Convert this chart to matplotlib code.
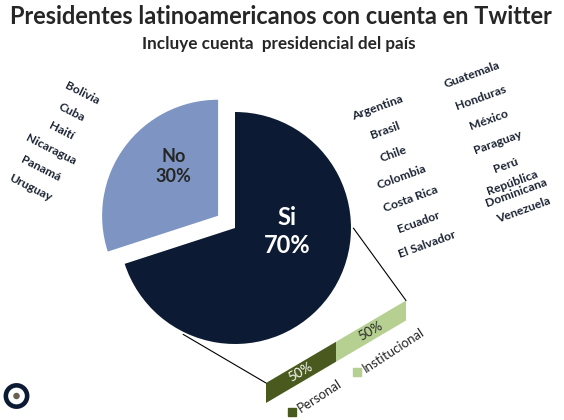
import matplotlib
matplotlib.use("Agg")
import matplotlib.pyplot as plt
from matplotlib.transforms import Affine2D
from matplotlib.patches import ConnectionPatch, Circle
import numpy as np

plt.rcParams['font.family'] = ['Lato', 'DejaVu Sans']

# ---- data ----
pie_labels = ["Si", "No"]
pie_values = [70, 30]
bar_labels = ["Personal", "Institucional"]
bar_values = [50, 50]
no_countries = ["Bolivia", "Cuba", "Haití", "Nicaragua", "Panamá", "Uruguay"]
si_countries_1 = ["Argentina", "Brasil", "Chile", "Colombia", "Costa Rica", "Ecuador", "El Salvador"]
si_countries_2 = ["Guatemala", "Honduras", "México", "Paraguay", "Perú", "República\nDominicana", "Venezuela"]

title = "Presidentes latinoamericanos con cuenta en Twitter"
subtitle = "Incluye cuenta  presidencial del país"

C_SI = "#0c1b33"
C_NO = "#7e95c3"
C_PERS = "#4a5a1e"
C_INST = "#b6d092"
TXT = "#262626"

W, H = 564, 420
fig = plt.figure(figsize=(W / 100, H / 100), dpi=100)
fig.patch.set_facecolor("white")

def fx(x):
    return x / W

def fy(y):
    return 1 - y / H

renderer = fig.canvas.get_renderer()

def fit_text(x, y, s, width_px, size, **kw):
    t = fig.text(fx(x), fy(y), s, ha="center", va="center", fontsize=size, **kw)
    w = t.get_window_extent(renderer=renderer).width
    t.set_fontsize(size * width_px / w)
    return t

# ---- titles ----
fit_text(281, 17, title, 545, 18, fontweight="bold", color=TXT)
fit_text(279, 44, subtitle, 272, 11, fontweight="bold", color=TXT)

# ---- pie ----
cx, cy, R = 235, 228, 116
k = 1.45
ax = fig.add_axes([fx(cx - k * R), fy(cy + k * R), 2 * k * R / W, 2 * k * R / H])
ax.axis("off")
wedges, _ = ax.pie(pie_values, colors=[C_SI, C_NO], startangle=90, counterclock=False,
                   explode=[0, 0.18], radius=1.0, wedgeprops=dict(linewidth=0))
ax.set_xlim(-k, k)
ax.set_ylim(-k, k)
ax.set_aspect("equal")
ax.text(0.45, -0.03, f"{pie_labels[0]}\n{pie_values[0]}%", ha="center", va="center",
        fontsize=17, fontweight="bold", color="white", linespacing=1.25)
ax.text(-0.53, 0.53, f"{pie_labels[1]}\n{pie_values[1]}%", ha="center", va="center",
        fontsize=13, fontweight="bold", color=TXT, linespacing=1.25)

# ---- skewed stacked bar ----
bx0, by0, bw, bh = 266, 403, 140, 20
ax2 = fig.add_axes([fx(bx0), fy(by0), bw / W, bh / H])
ax2.axis("off")
ax2.set_xlim(0, sum(bar_values))
ax2.set_ylim(0, 1)
x0d, y0d = bx0, H - by0
skew = Affine2D().translate(-x0d, -y0d).skew_deg(0, 30.5).translate(x0d, y0d)
tr = ax2.transData + skew
lefts = np.concatenate([[0], np.cumsum(bar_values)[:-1]])
bars = ax2.barh(0.5, bar_values, left=lefts, height=1.0, color=[C_PERS, C_INST],
                linewidth=0)
for b in bars:
    b.set_transform(tr)
    b.set_clip_on(False)
for l, v, col in zip(lefts, bar_values, ["white", TXT]):
    ax2.text(l + v / 2, 0.5, f"{v}%", transform=tr, ha="center", va="center",
             rotation=30, fontsize=9.5, color=col, clip_on=False)

# leader lines from pie edge to bar corners
for ang, (bxv, byv) in [(0, (sum(bar_values), 1.0)), (-116, (0, 1.0))]:
    a = np.deg2rad(ang)
    con = ConnectionPatch(xyA=(1.02 * np.cos(a), 1.02 * np.sin(a)), coordsA=ax.transData,
                          xyB=(bxv, byv), coordsB=tr, color="black", linewidth=0.8)
    fig.add_artist(con)

# legend for bar
for (lx, ly), lab, col in [((292, 412), bar_labels[0], C_PERS), ((357, 372), bar_labels[1], C_INST)]:
    fig.patches.append(plt.Rectangle((fx(lx - 4), fy(ly + 4)), 8 / W, 8 / H,
                                     transform=fig.transFigure, color=col))
    fig.text(fx(lx + 7), fy(ly - 2), lab, rotation=33, rotation_mode="anchor",
             ha="left", va="center", fontsize=9.5, color=TXT)

# ---- country lists ----
def place(names, start, step, rot):
    for i, n in enumerate(names):
        x = start[0] + i * step[0]
        y = start[1] + i * step[1]
        fig.text(fx(x), fy(y), n, rotation=rot, rotation_mode="anchor", ha="center",
                 va="center", fontsize=8.8, fontweight="bold", color="#1b2333",
                 linespacing=1.0, multialignment="center")

place(no_countries, (82, 93), (-10.4, 19), -27)
place(si_countries_1, (377, 108), (8.3, 22.8), 20)
place(si_countries_2, (472, 75), (8.5, 22.5), 20)

# ---- logo ----
logo_ax = fig.add_axes([fx(1.5), fy(411), 30 / W, 30 / H])
logo_ax.set_xlim(-1, 1)
logo_ax.set_ylim(-1, 1)
logo_ax.set_aspect("equal")
logo_ax.axis("off")
logo_ax.add_patch(Circle((0, 0), 0.71, facecolor="white", edgecolor=C_SI, linewidth=3.3))
logo_ax.add_patch(Circle((0, 0), 0.17, color="#6b5e52"))

fig.savefig("out.png", dpi=100, facecolor="white")
